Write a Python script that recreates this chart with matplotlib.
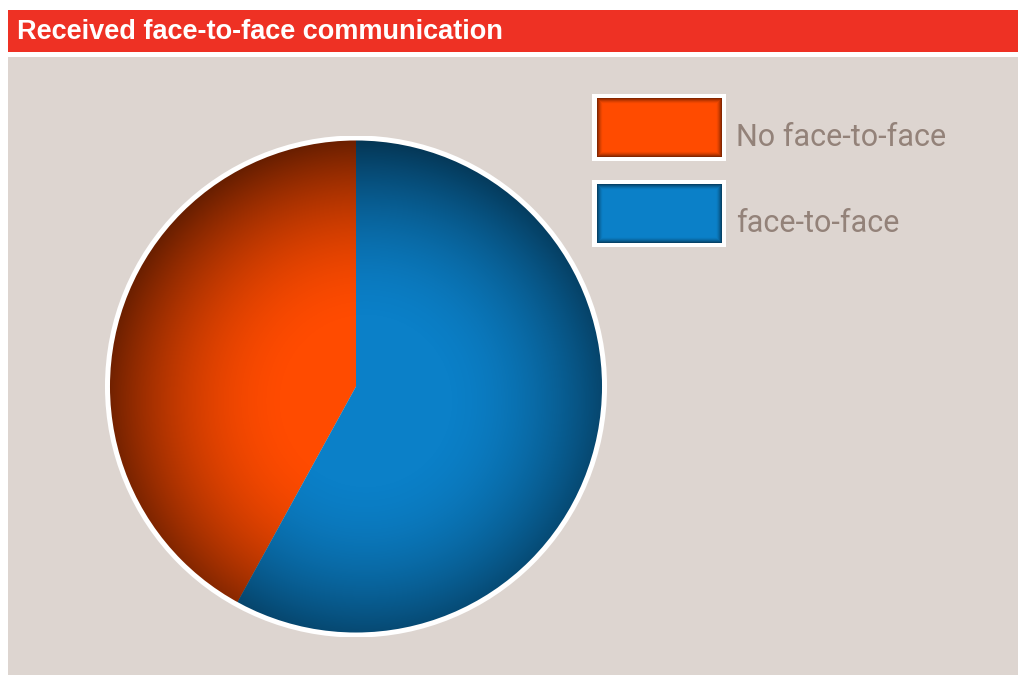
import numpy as np
import matplotlib.pyplot as plt
from matplotlib.patches import Rectangle, Circle

# data
labels = ['No face-to-face', 'face-to-face']
shares = [42, 58]
colors = ['#ff4b00', '#0b80c8']
title = 'Received face-to-face communication'

W, H = 1018, 675
fig = plt.figure(figsize=(W / 100, H / 100), dpi=100)
fig.patch.set_facecolor('white')

# full-figure axes in pixel coords (y down)
bg = fig.add_axes([0, 0, 1, 1])
bg.set_xlim(0, W)
bg.set_ylim(H, 0)
bg.axis('off')

bg.add_patch(Rectangle((8, 10), W - 8, 42, facecolor='#ee3124', edgecolor='none'))
bg.add_patch(Rectangle((8, 57), W - 8, H - 57, facecolor='#ddd5d0', edgecolor='none'))
bg.text(17, 32, title, color='white', fontsize=19.5, fontweight='bold',
        family=['Liberation Sans', 'DejaVu Sans'], va='center', ha='left')


def inner_shadow(ax, x0, y0, w, h, strength=0.55, width=6):
    # dark fringe along the inside of a rectangle
    nx, ny = int(w), int(h)
    xx, yy = np.meshgrid(np.arange(nx) + 0.5, np.arange(ny) + 0.5)
    d = np.minimum(np.minimum(xx, nx - xx), np.minimum(yy, ny - yy))
    a = strength * np.clip(1 - d / width, 0, 1) ** 1.5
    img = np.zeros((ny, nx, 4))
    img[..., 3] = a
    ax.imshow(img, extent=(x0, x0 + w, y0 + h, y0), zorder=3, interpolation='bilinear')


# legend
box_y = [94, 180]
for lab, col, y in zip(labels, colors, box_y):
    bg.add_patch(Rectangle((592, y), 134, 67, facecolor='white', edgecolor='none', zorder=2))
    bg.add_patch(Rectangle((597, y + 4), 125, 59, facecolor=col, edgecolor='none', zorder=2))
    inner_shadow(bg, 597, y + 4, 125, 59)
    bg.text(736, y + 43, lab, color='#938279', fontsize=22, fontweight='normal',
            family=['Roboto', 'DejaVu Sans'], va='center', ha='left', zorder=4)
bg.set_xlim(0, W)
bg.set_ylim(H, 0)

# pie
cx, cy, R = 356, 386.5, 251
ax = fig.add_axes([(cx - R) / W, (H - cy - R) / H, 2 * R / W, 2 * R / H])
ax.axis('off')
wedges, _ = ax.pie(shares, colors=colors, startangle=90, counterclock=True,
                   radius=1, wedgeprops=dict(linewidth=0))

# radial darkening toward the rim
n = 600
g = np.linspace(-1, 1, n)
gx, gy = np.meshgrid(g, g)
r = np.hypot(gx - 0.04, gy + 0.06)
alpha = 0.6 * np.clip((r - 0.3) / 0.76, 0, 1) ** 1.8
shade = np.zeros((n, n, 4))
shade[..., 3] = alpha
im = ax.imshow(shade, extent=(-1, 1, -1, 1), origin='lower', zorder=3, interpolation='bilinear')
clip = Circle((0, 0), 1, transform=ax.transData)
im.set_clip_path(clip)
ax.add_patch(Circle((0, 0), 1, facecolor='none', edgecolor='white', linewidth=3.6, zorder=4))
ax.set_xlim(-1.01, 1.01)
ax.set_ylim(-1.01, 1.01)

fig.savefig('out.png', dpi=100, facecolor='white')
